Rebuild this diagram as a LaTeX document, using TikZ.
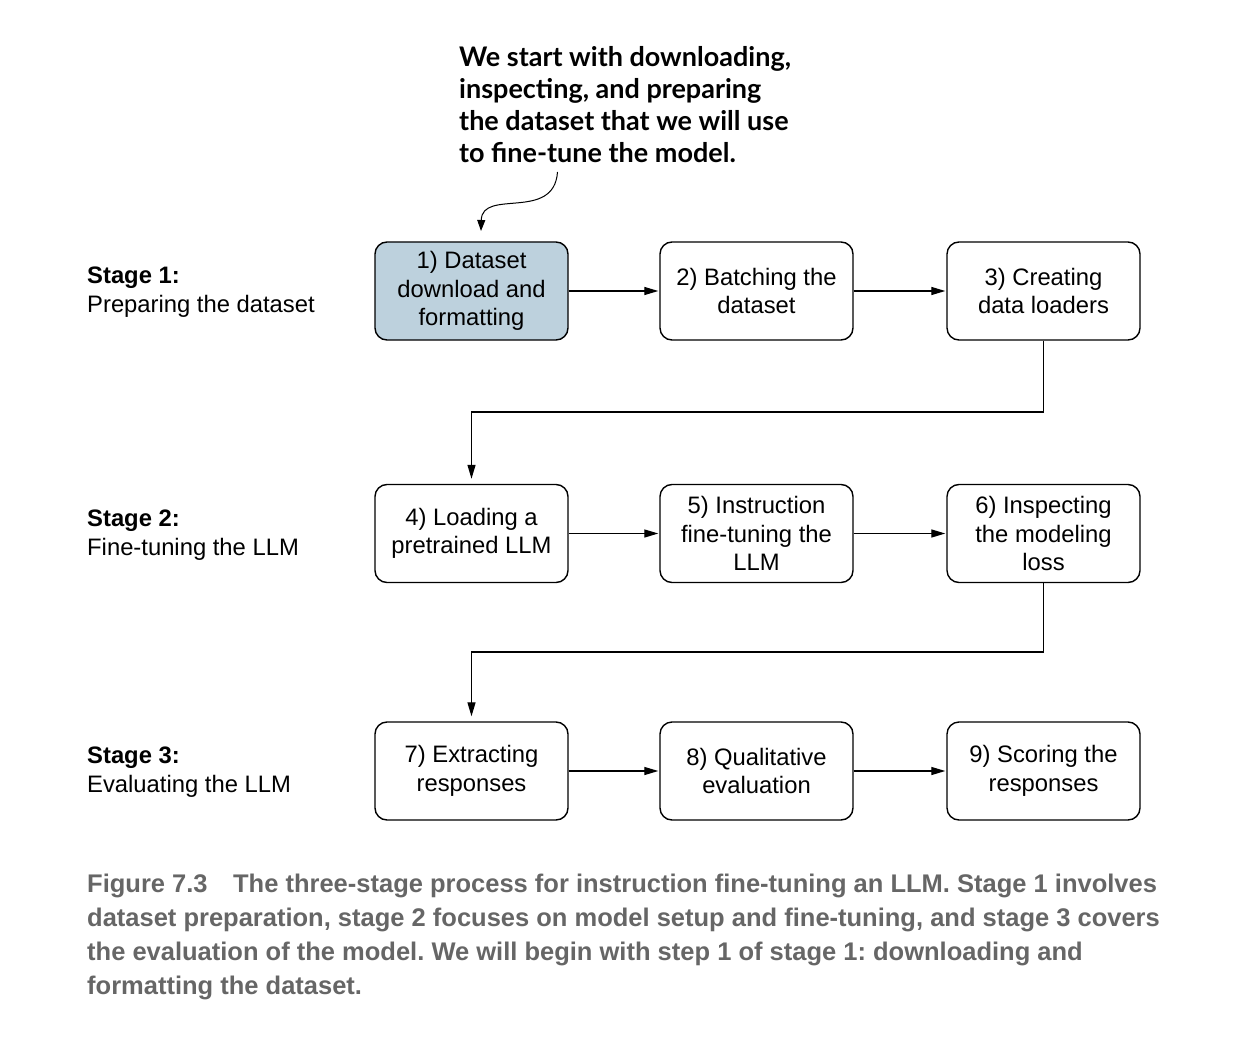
\documentclass[tikz,border=0pt]{standalone}
\usepackage{fontspec}
\setmainfont{Liberation Sans}
\newfontfamily\notefont{Lato}
\newfontfamily\capfont{Liberation Sans}
\usetikzlibrary{arrows.meta}
\definecolor{boxblue}{HTML}{BDD1DD}
\definecolor{capgray}{HTML}{666666}
\tikzset{
  stepbox/.style={draw, line width=1.4pt, rounded corners=12pt, minimum width=193pt, minimum height=98pt, align=center, inner sep=0pt, font=\fontsize{23.8}{28.5}\selectfont},
  flow/.style={line width=1.3pt, -{Triangle[length=14pt,width=8pt]}, shorten >=1pt},
  stagelbl/.style={anchor=west, align=left, inner sep=0pt, font=\fontsize{23.8}{28.5}\selectfont},
}
\begin{document}
\frenchspacing
\begin{tikzpicture}[x=1pt,y=-1pt]
\useasboundingbox (0,0) rectangle (1260,1056);
% boxes
\node[stepbox, fill=boxblue] (b1) at (471.5,291) {1) Dataset\\download and\\formatting};
\node[stepbox] (b2) at (756.5,291) {2) Batching the\\dataset};
\node[stepbox] (b3) at (1043.5,291) {3) Creating\\data loaders};
\node[stepbox] (b4) at (471.5,533.5) {4) Loading a\\pretrained LLM};
\node[stepbox] (b5) at (756.5,533.5) {5) Instruction\\fine-tuning the\\LLM};
\node[stepbox] (b6) at (1043.5,533.5) {6) Inspecting\\the modeling\\loss};
\node[stepbox] (b7) at (471.5,771) {7) Extracting\\responses};
\node[stepbox] (b8) at (756.5,771) {8) Qualitative\\evaluation};
\node[stepbox] (b9) at (1043.5,771) {9) Scoring the\\responses};
% stage labels
\node[stagelbl] (s1) at (87,292) {\textbf{Stage 1:}\\Preparing the dataset};
\node[stagelbl] (s2) at (87,535) {\textbf{Stage 2:}\\Fine-tuning the LLM};
\node[stagelbl] (s3) at (87,772) {\textbf{Stage 3:}\\Evaluating the LLM};
% row arrows
\draw[flow] (b1) -- (b2);
\draw[flow] (b2) -- (b3);
\draw[flow] (b4) -- (b5);
\draw[flow] (b5) -- (b6);
\draw[flow] (b7) -- (b8);
\draw[flow] (b8) -- (b9);
% elbows
\coordinate (e1) at (1043.5,412);
\coordinate (e2) at (471.5,412);
\draw[flow, shorten >=5pt] (b3.south) -- (e1) -- (e2) -- (b4.north);
\coordinate (e3) at (1043.5,652);
\coordinate (e4) at (471.5,652);
\draw[flow, shorten >=5pt] (b6.south) -- (e3) -- (e4) -- (b7.north);
% annotation
\node[anchor=north west, align=left, inner sep=0pt, font=\notefont\bfseries\fontsize{27}{32}\selectfont] (note) at (459,46) {We start with downloading,\\inspecting, and preparing\\the dataset that we will use\\to fine-tune the model.};
\coordinate (ns) at (557.5,172);
\coordinate (nt) at (481,231);
\draw[line width=1pt, -{Triangle[length=11pt,width=8pt]}] (ns) .. controls (554,222) and (482,188) .. (nt);
% caption
\node[anchor=north west, align=left, inner sep=0pt, text=capgray, font=\capfont\bfseries\fontsize{25.5}{34}\selectfont] (cap) at (87,874) {Figure 7.3\quad The three-stage process for instruction fine-tuning an LLM. Stage 1 involves\\dataset preparation, stage 2 focuses on model setup and fine-tuning, and stage 3 covers\\the evaluation of the model. We will begin with step 1 of stage 1: downloading and\\formatting the dataset.};
\end{tikzpicture}
\end{document}
